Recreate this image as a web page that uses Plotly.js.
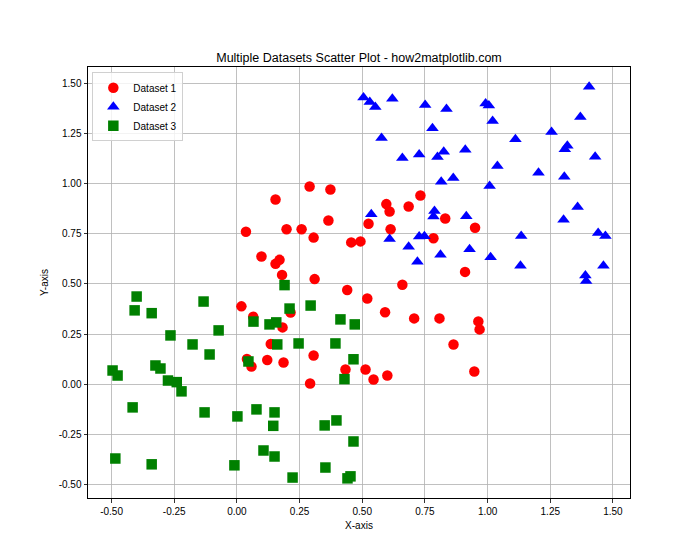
<!DOCTYPE html>
<html>
<head>
<meta charset="utf-8">
<script src="https://cdn.plot.ly/plotly-3.0.1.min.js"></script>
<style>
  html, body { margin: 0; padding: 0; background: #ffffff; }
  #chart { width: 700px; height: 560px; }
</style>
</head>
<body>
<div id="chart"></div>
<script>
// Dataset 1 (red circles)
const set1X = [0.036, 0.154, 0.29, 0.373, 0.365, 0.198, 0.258, 0.306, 0.456, 0.493,
               0.525, 0.596, 0.609, 0.685, 0.732, 0.613, 0.784, 0.831, 0.95, 0.91,
               0.098, 0.154, 0.17, 0.18, 0.31, 0.44, 0.66, 0.52, 0.214, 0.591,
               0.707, 0.808, 0.963, 0.968, 0.182, 0.864, 0.135, 0.306, 0.121, 0.186,
               0.433, 0.513, 0.545, 0.60, 0.292, 0.947, 0.018, 0.065, 0.058, 0.04];
const set1Y = [0.76, 0.921, 0.986, 0.971, 0.816, 0.773, 0.773, 0.731, 0.707, 0.712,
               0.80, 0.898, 0.861, 0.886, 0.941, 0.773, 0.728, 0.826, 0.78, 0.56,
               0.637, 0.60, 0.62, 0.545, 0.524, 0.47, 0.496, 0.427, 0.357, 0.359,
               0.328, 0.328, 0.313, 0.273, 0.283, 0.198, 0.20, 0.143, 0.12, 0.108,
               0.073, 0.073, 0.023, 0.043, 0.003, 0.063, 0.388, 0.336, 0.088, 0.125];

// Dataset 2 (blue triangles)
const set2X = [0.505, 0.53, 0.552, 0.62, 0.751, 0.836, 0.992, 1.005, 1.405, 1.02,
               1.37, 0.78, 0.577, 1.111, 1.255, 1.308, 1.318, 1.429, 0.66, 0.727,
               0.80, 0.825, 0.911, 1.039, 1.203, 1.306, 0.815, 0.863, 1.008, 0.536,
               0.788, 0.784, 0.915, 1.303, 1.359, 0.609, 0.727, 0.748, 1.134, 1.441,
               1.47, 0.685, 0.928, 0.812, 0.72, 1.012, 1.131, 1.462, 1.39, 1.393];
const set2Y = [1.43, 1.408, 1.383, 1.423, 1.393, 1.373, 1.40, 1.39, 1.483, 1.313,
               1.333, 1.277, 1.228, 1.222, 1.258, 1.172, 1.189, 1.134, 1.128, 1.145,
               1.133, 1.159, 1.169, 1.088, 1.054, 1.035, 1.009, 1.028, 0.988, 0.848,
               0.864, 0.836, 0.838, 0.82, 0.884, 0.724, 0.736, 0.738, 0.739, 0.754,
               0.739, 0.685, 0.673, 0.645, 0.61, 0.633, 0.59, 0.59, 0.542, 0.515];

// Dataset 3 (green squares)
const set3X = [-0.40, -0.408, -0.34, -0.133, -0.073, -0.265, -0.177, -0.109, -0.496, -0.476,
               -0.325, -0.305, -0.275, -0.24, -0.221, -0.416, -0.129, 0.002, 0.078, 0.066,
               0.13, 0.157, 0.046, 0.161, -0.485, -0.34, -0.01, 0.106, 0.15, 0.145,
               0.15, 0.19, 0.21, 0.294, 0.413, 0.47, 0.246, 0.393, 0.465, 0.429,
               0.397, 0.35, 0.465, 0.353, 0.222, 0.441, 0.453];
const set3Y = [0.437, 0.368, 0.354, 0.412, 0.268, 0.243, 0.198, 0.148, 0.068, 0.043,
               0.093, 0.078, 0.018, 0.01, -0.036, -0.116, -0.141, -0.161, -0.126, 0.312,
               0.298, 0.308, 0.113, 0.198, -0.371, -0.40, -0.405, -0.331, -0.141, -0.208,
               -0.361, 0.494, 0.377, 0.392, 0.323, 0.298, 0.203, 0.203, 0.124, 0.025,
               -0.181, -0.206, -0.286, -0.416, -0.466, -0.47, -0.46];

const seriesNames = ['Dataset 1', 'Dataset 2', 'Dataset 3'];
const tickVals = [-0.5, -0.25, 0, 0.25, 0.5, 0.75, 1.0, 1.25, 1.5];
const tickText = ['-0.50', '-0.25', '0.00', '0.25', '0.50', '0.75', '1.00', '1.25', '1.50'];

const traces = [
  { x: set1X, y: set1Y, name: seriesNames[0], type: 'scatter', mode: 'markers',
    marker: { color: '#ff0000', symbol: 'circle', size: 10.5, line: { width: 0 } } },
  { x: set2X, y: set2Y, name: seriesNames[1], type: 'scatter', mode: 'markers',
    marker: { color: '#0000ff', symbol: 'triangle-up', size: 11, line: { width: 0 } } },
  { x: set3X, y: set3Y, name: seriesNames[2], type: 'scatter', mode: 'markers',
    marker: { color: '#008000', symbol: 'square', size: 10.5, line: { width: 0 } } }
];

const axisCommon = {
  tickmode: 'array', tickvals: tickVals, ticktext: tickText,
  showgrid: true, gridcolor: '#b0b0b0', gridwidth: 0.8,
  zeroline: false,
  showline: true, linecolor: '#000000', linewidth: 1, mirror: true,
  ticks: 'outside', ticklen: 3.5, tickwidth: 0.8, tickcolor: '#000000',
  tickfont: { family: 'Liberation Sans, Arial, sans-serif', size: 10, color: '#000000' }
};

const layout = {
  width: 700, height: 560,
  paper_bgcolor: '#ffffff', plot_bgcolor: '#ffffff',
  margin: { l: 87.5, r: 70, t: 67, b: 62, pad: 0 },
  title: { text: 'Multiple Datasets Scatter Plot - how2matplotlib.com',
           font: { family: 'Liberation Sans, Arial, sans-serif', size: 12.5, color: '#000000' },
           x: 0.5, xref: 'paper', xanchor: 'center', y: 1, yref: 'paper', yanchor: 'bottom', pad: { b: 5 } },
  xaxis: Object.assign({}, axisCommon, {
    range: [-0.594, 1.568],
    title: { text: 'X-axis', font: { family: 'Liberation Sans, Arial, sans-serif', size: 10, color: '#000000' }, standoff: 6 }
  }),
  yaxis: Object.assign({}, axisCommon, {
    range: [-0.568, 1.582],
    title: { text: 'Y-axis', font: { family: 'Liberation Sans, Arial, sans-serif', size: 10, color: '#000000' }, standoff: 8 }
  }),
  showlegend: true,
  legend: {
    x: 0.008, y: 0.988, xanchor: 'left', yanchor: 'top',
    bgcolor: 'rgba(255,255,255,0.8)', bordercolor: '#d0d0d0', borderwidth: 1,
    font: { family: 'Liberation Sans, Arial, sans-serif', size: 10, color: '#000000' },
    itemsizing: 'trace', tracegroupgap: 0
  },
  hovermode: false
};

Plotly.newPlot('chart', traces, layout, { displayModeBar: false, staticPlot: true });
</script>
</body>
</html>
